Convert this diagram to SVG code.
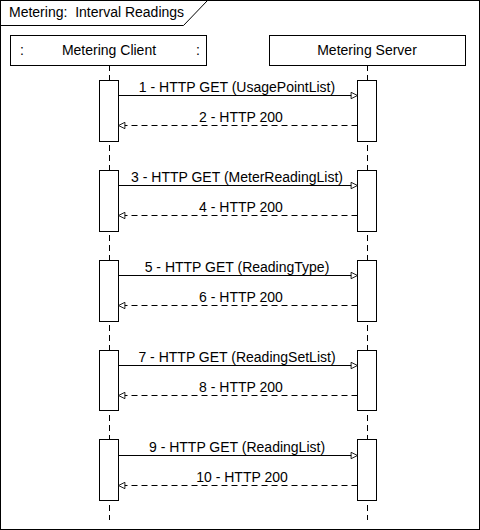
<svg xmlns="http://www.w3.org/2000/svg" width="480" height="530" viewBox="0 0 480 530">
<style>
text{font-family:"Liberation Sans",Arial,sans-serif;font-size:14px;fill:#000;white-space:pre}
.box{fill:#fff;stroke:#000;stroke-width:1}
.life{stroke:#000;stroke-width:1;stroke-dasharray:6 4;fill:none}
.msg{stroke:#000;stroke-width:1;fill:none;marker-end:url(#open)}
.ret{stroke:#000;stroke-width:1;fill:none;stroke-dasharray:6 4;marker-end:url(#open)}
.mid{text-anchor:middle}
</style>
<defs>
<marker id="open" viewBox="0 0 10 10" refX="9" refY="5" markerWidth="8" markerHeight="8" markerUnits="userSpaceOnUse" orient="auto">
<path d="M1,1 L9,5 L1,9 Z" fill="#fff" stroke="#000" stroke-width="1.1"/>
</marker>
</defs>
<rect width="480" height="530" fill="#fff"/>
<g id="frame">
<rect x="0.5" y="0.5" width="479" height="529" fill="none" stroke="#000"/>
<path d="M0.5,25.5 H183.5 L207.5,0.5" fill="none" stroke="#000"/>
<text x="9" y="17">Metering:  Interval Readings</text>
</g>
<g id="lifelines">
<line class="life" x1="109.5" y1="65" x2="109.5" y2="520"/>
<line class="life" x1="367.5" y1="65" x2="367.5" y2="520"/>
</g>
<g id="client">
<rect class="box" x="10.5" y="35.5" width="196" height="30"/>
<text x="20" y="55">:</text>
<text x="196" y="55">:</text>
<text class="mid" x="109" y="55">Metering Client</text>
</g>
<g id="server">
<rect class="box" x="269.5" y="35.5" width="196" height="30"/>
<text class="mid" x="367" y="55">Metering Server</text>
</g>
<g id="activations">
<rect class="box" x="99.5" y="80.5" width="19" height="61"/>
<rect class="box" x="357.5" y="80.5" width="19" height="61"/>
<rect class="box" x="99.5" y="170.5" width="19" height="61"/>
<rect class="box" x="357.5" y="170.5" width="19" height="61"/>
<rect class="box" x="99.5" y="260.5" width="19" height="61"/>
<rect class="box" x="357.5" y="260.5" width="19" height="61"/>
<rect class="box" x="99.5" y="350.5" width="19" height="60"/>
<rect class="box" x="357.5" y="350.5" width="19" height="60"/>
<rect class="box" x="99.5" y="439.5" width="19" height="61"/>
<rect class="box" x="357.5" y="439.5" width="19" height="61"/>
</g>
<g id="connectors">
<line class="msg" x1="118.5" y1="95.5" x2="357.5" y2="95.5"/>
<line class="ret" x1="357.5" y1="125.5" x2="118.5" y2="125.5"/>
<line class="msg" x1="118.5" y1="185.5" x2="357.5" y2="185.5"/>
<line class="ret" x1="357.5" y1="215.5" x2="118.5" y2="215.5"/>
<line class="msg" x1="118.5" y1="275.5" x2="357.5" y2="275.5"/>
<line class="ret" x1="357.5" y1="305.5" x2="118.5" y2="305.5"/>
<line class="msg" x1="118.5" y1="365.5" x2="357.5" y2="365.5"/>
<line class="ret" x1="357.5" y1="395.5" x2="118.5" y2="395.5"/>
<line class="msg" x1="118.5" y1="455.5" x2="357.5" y2="455.5"/>
<line class="ret" x1="357.5" y1="485.5" x2="118.5" y2="485.5"/>
</g>
<g id="labels">
<text class="mid" x="237" y="92">1 - HTTP GET (UsagePointList)</text>
<text class="mid" x="241" y="122">2 - HTTP 200</text>
<text class="mid" x="237" y="182">3 - HTTP GET (MeterReadingList)</text>
<text class="mid" x="241" y="212">4 - HTTP 200</text>
<text class="mid" x="237" y="272">5 - HTTP GET (ReadingType)</text>
<text class="mid" x="241" y="302">6 - HTTP 200</text>
<text class="mid" x="237" y="362">7 - HTTP GET (ReadingSetList)</text>
<text class="mid" x="241" y="392">8 - HTTP 200</text>
<text class="mid" x="237" y="452">9 - HTTP GET (ReadingList)</text>
<text class="mid" x="242" y="482">10 - HTTP 200</text>
</g>
</svg>
